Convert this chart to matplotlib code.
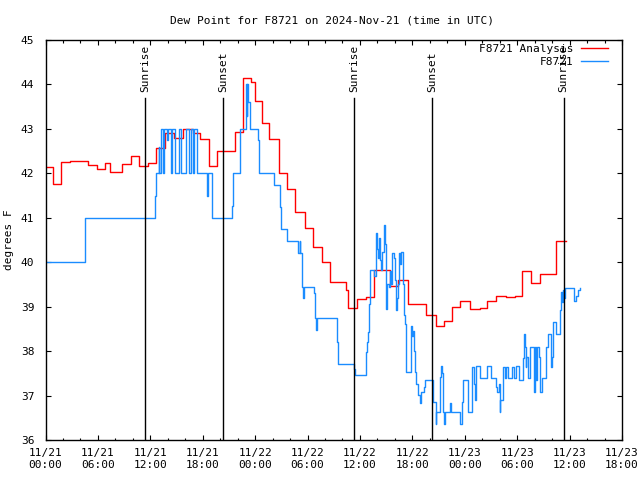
import matplotlib
matplotlib.use("Agg")
import matplotlib.pyplot as plt
from matplotlib.ticker import MultipleLocator
import matplotlib.transforms as mtransforms

plt.rcParams['font.family'] = ['DejaVu Sans Mono']
plt.rcParams['font.size'] = 8

# hours since 2024-11-21 00:00 UTC
red_t = [0, 0.9, 1.75, 2.8, 4.9, 5.85, 6.8, 7.38, 8.72, 9.75, 10.7, 11.76, 12.7, 13.67,
         14.7, 15.69, 16.84, 17.67, 18.7, 19.66, 21.68, 22.6, 23.5, 24.0, 24.73, 25.6,
         26.68, 27.66, 28.6, 29.68, 30.63, 31.6, 32.62, 34.37, 34.64, 35.67, 36.66, 37.61,
         39.41, 40.36, 41.5, 43.6, 44.67, 45.58, 46.58, 47.41, 48.64, 49.7, 50.58, 51.53,
         52.68, 53.71, 54.54, 55.54, 56.57, 58.48, 59.62]
red_v = [42.15, 41.75, 42.25, 42.27, 42.19, 42.09, 42.23, 42.03, 42.2, 42.38, 42.16, 42.23,
         42.56, 42.9, 42.79, 42.99, 42.9, 42.78, 42.17, 42.5, 42.94, 44.15, 44.05, 43.63,
         43.14, 42.77, 42.0, 41.64, 41.12, 40.76, 40.34, 40.0, 39.56, 39.37, 38.96, 39.17,
         39.22, 39.82, 39.46, 39.6, 39.06, 38.81, 38.56, 38.68, 39.0, 39.13, 38.94, 38.96,
         39.12, 39.25, 39.21, 39.23, 39.8, 39.53, 39.74, 40.47, 40.47]

blue_t = [0, 4.52, 12.56, 12.65, 12.95, 13.05, 13.2, 13.4, 13.55, 13.9, 14.0, 14.35, 14.5,
          14.85, 15.3, 15.55, 16.1, 16.4, 16.65, 16.85, 17.0, 17.3, 18.44, 18.62, 19.01,
          21.37, 21.48, 22.25, 22.95, 23.02, 23.08, 23.2, 23.39, 24.34, 24.46, 26.14, 26.82,
          26.94, 27.66, 28.92, 29.11, 29.19, 29.31, 29.49, 29.6, 30.75, 30.83, 31.0, 31.09,
          33.38, 33.49, 35.29, 35.4, 36.66, 36.81, 36.95, 37.04, 37.12, 37.6, 37.8, 37.95,
          38.05, 38.15, 38.27, 38.4, 38.5, 38.7, 38.85, 39.0, 39.08, 39.3, 39.41, 39.6,
          39.72, 39.85, 40.0, 40.15, 40.25, 40.35, 40.47, 40.6, 40.75, 40.9, 41.01, 41.15,
          41.32, 41.89, 41.98, 42.05, 42.15, 42.25, 42.46, 42.64, 42.84, 43.03, 43.3, 43.41,
          44.36, 44.67, 44.75, 45.21, 45.32, 45.4, 45.5, 45.62, 45.7, 46.35, 46.47, 47.49,
          47.72, 47.79, 48.36, 48.87, 49.0, 49.13, 49.24, 49.78, 50.58, 51.04, 51.53, 51.72,
          51.91, 51.99, 52.07, 52.37, 52.56, 52.76, 52.94, 53.44, 53.59, 53.9, 54.2, 54.66,
          54.77, 54.85, 54.96, 55.04, 55.23, 55.5, 55.92, 56.0, 56.19, 56.3, 56.45, 56.65,
          56.87, 57.33, 57.52, 57.91, 58.02, 58.09, 58.48, 58.85, 59.05, 59.15, 59.23, 59.35,
          59.51, 60.19, 60.46, 60.7, 60.95, 61.14]
blue_v = [40.0, 41.0, 41.5, 42.0, 42.6, 42.0, 43.0, 42.0, 43.0, 42.75, 43.0, 42.0, 43.0,
          42.0, 43.0, 42.0, 43.0, 42.0, 43.0, 42.0, 43.0, 42.0, 41.5, 42.0, 41.0,
          41.27, 42.0, 43.0, 44.0, 43.3, 44.0, 43.6, 43.0, 42.75, 42.0, 41.74, 41.25,
          40.74, 40.47, 40.2, 40.47, 40.2, 39.45, 39.19, 39.45, 39.3, 38.74, 38.47, 38.74,
          38.21, 37.72, 37.6, 37.46, 37.99, 38.21, 38.44, 39.07, 39.82, 39.7, 40.65, 40.3,
          40.1, 40.55, 40.05, 39.82, 40.24, 40.83, 40.4, 38.94, 39.52, 39.45, 39.8, 39.52,
          40.2, 40.1, 39.6, 38.92, 39.2, 39.52, 40.2, 39.95, 40.24, 39.52, 38.81, 38.6,
          37.54, 38.56, 38.33, 38.45, 38.0, 37.54, 37.27, 37.01, 36.83, 37.09, 37.2, 37.36,
          36.86, 36.37, 36.64, 37.42, 37.66, 37.5, 36.64, 36.37, 36.64, 36.83, 36.64, 36.37,
          36.86, 37.36, 36.64, 37.65, 37.27, 36.9, 37.66, 37.39, 37.66, 37.39, 37.2, 37.09,
          37.27, 36.64, 36.9, 37.65, 37.39, 37.65, 37.39, 37.65, 37.39, 37.66, 37.36, 37.85,
          38.38, 38.1, 37.65, 37.87, 37.39, 38.09, 37.09, 38.09, 37.36, 38.09, 37.87, 37.09,
          37.39, 38.09, 38.38, 37.65, 37.87, 38.66, 38.38, 38.92, 39.34, 39.11, 39.37, 39.19,
          39.41, 39.41, 39.13, 39.24, 39.38, 39.43]

sun_t = [11.42, 20.34, 35.32, 44.25, 59.33]
sun_labels = ["Sunrise", "Sunset", "Sunrise", "Sunset", "Sunrise"]

xtick_pos = [0, 6, 12, 18, 24, 30, 36, 42, 48, 54, 60, 66]
xtick_labels = ["11/21\n00:00", "11/21\n06:00", "11/21\n12:00", "11/21\n18:00",
                "11/22\n00:00", "11/22\n06:00", "11/22\n12:00", "11/22\n18:00",
                "11/23\n00:00", "11/23\n06:00", "11/23\n12:00", "11/23\n18:00"]
ytick_pos = [36, 37, 38, 39, 40, 41, 42, 43, 44, 45]

fig = plt.figure(figsize=(6.4, 4.8), dpi=100)
ax = fig.add_axes([45.5/640, 40/480, (622-45.5)/640, 400/480])

ax.plot(red_t, red_v, color='#ff0000', lw=1.0, drawstyle='steps-post', label='F8721 Analysis')
ax.plot(blue_t, blue_v, color='#1a8cff', lw=1.0, drawstyle='steps-post', label='F8721')

trans = mtransforms.blended_transform_factory(ax.transData, ax.transAxes)
for t, lab in zip(sun_t, sun_labels):
    ax.axvline(t, ymin=0, ymax=0.855, color='black', lw=1.0)
    ax.text(t, 0.87, lab, rotation=90, ha='center', va='bottom', transform=trans, fontsize=8)

ax.set_xlim(0, 66)
ax.set_ylim(36, 45)
ax.set_xticks(xtick_pos)
ax.set_xticklabels(xtick_labels)
ax.xaxis.set_minor_locator(MultipleLocator(2))
ax.set_yticks(ytick_pos)
ax.tick_params(which='both', direction='in', top=True, right=True, width=0.8)
ax.tick_params(which='major', length=3.5)
ax.tick_params(which='minor', length=1.8)
ax.tick_params(axis='y', pad=8)
ax.tick_params(axis='x', pad=6)
for s in ax.spines.values():
    s.set_linewidth(1.0)

ax.set_ylabel('degrees F', labelpad=5)
fig.text(331.5/640, 1 - 20.5/480, 'Dew Point for F8721 on 2024-Nov-21 (time in UTC)',
         ha='center', va='center', fontsize=8)

ax.legend(loc='upper right', bbox_to_anchor=(0.983, 1.0), frameon=False, markerfirst=False,
          borderaxespad=0.0, borderpad=0.35, handlelength=2.5, handletextpad=0.6,
          labelspacing=0.25, fontsize=8)

fig.savefig('out.png', dpi=100)
